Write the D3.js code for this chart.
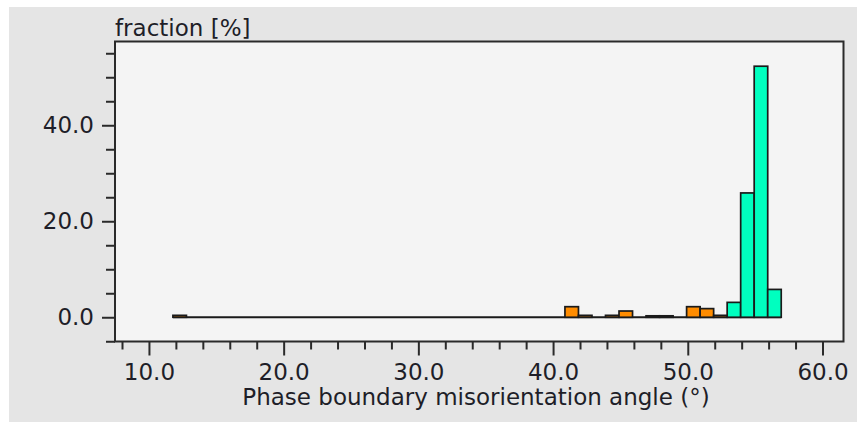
<!DOCTYPE html>
<head>
  <meta charset="utf-8">
  <script src="https://d3js.org/d3.v7.min.js"></script>
  <style>
    body { margin: 0; background: #fff; }
    svg { display: block; }
    text { font-family: "DejaVu Sans", Verdana, sans-serif; fill: #1e1e28; }
  </style>
</head>

<body>
  <svg width="857" height="422"></svg>
  <script>
    // data: histogram bins (degrees) and fraction in %
    var angles = [12, 13, 14, 15, 16, 17, 18, 19, 20, 21, 22, 23, 24, 25, 26, 27, 28, 29, 30,
                  31, 32, 33, 34, 35, 36, 37, 38, 39, 40, 41, 42, 43, 44, 45, 46, 47, 48, 49,
                  50, 51, 52, 53, 54, 55, 56];
    var fractions = [0.4, 0, 0, 0, 0, 0, 0, 0, 0, 0, 0, 0, 0, 0, 0, 0, 0, 0, 0,
                     0, 0, 0, 0, 0, 0, 0, 0, 0, 0, 2.2, 0.4, 0, 0.4, 1.3, 0, 0.3, 0.3, 0,
                     2.2, 1.8, 0.4, 3.1, 25.9, 52.3, 5.8];
    var xTicks = [10, 20, 30, 40, 50, 60];
    var yTicks = [0, 20, 40];

    var binStart = 11.78, binWidth = 1.0035;
    var fontSize = 23;

    var plot = {left: 115, right: 843.5, top: 41.5, bottom: 341.5};

    var x = d3.scaleLinear().domain([7.48, 61.56]).range([plot.left, plot.right]);
    var y = d3.scaleLinear().domain([-5.05, 57.45]).range([plot.bottom, plot.top]);
    var color = d3.scaleThreshold().domain([52.5]).range(['#ff8c00', '#00ffbf']);

    function lo(a) { return binStart + (a - 12) * binWidth; }

    var svg = d3.select('svg');

    // outer panel
    svg.append('rect')
      .attr('x', 9).attr('y', 7)
      .attr('width', 848).attr('height', 415)
      .attr('fill', '#e5e5e5');

    // plot area
    svg.append('rect')
      .attr('x', plot.left).attr('y', plot.top)
      .attr('width', plot.right - plot.left).attr('height', plot.bottom - plot.top)
      .attr('fill', '#f4f4f4')
      .attr('stroke', '#2a2a2a')
      .attr('stroke-width', 2);

    // baseline under the empty bins
    svg.append('line')
      .attr('x1', x(lo(angles[0])))
      .attr('x2', x(lo(angles[angles.length - 1]) + binWidth))
      .attr('y1', y(0)).attr('y2', y(0))
      .attr('stroke', '#1a1a1a')
      .attr('stroke-width', 1.8);

    // bars
    var data = angles.map(function(a, i) { return {a: a, v: fractions[i]}; })
      .filter(function(d) { return d.v > 0; });
    svg.append('g').selectAll('rect')
      .data(data)
      .enter().append('rect')
      .attr('x', function(d) { return x(lo(d.a)); })
      .attr('width', function(d) { return x(lo(d.a) + binWidth) - x(lo(d.a)); })
      .attr('y', function(d) { return y(d.v); })
      .attr('height', function(d) { return y(0) - y(d.v); })
      .attr('fill', function(d) { return color(d.a); })
      .attr('stroke', '#1a1a1a')
      .attr('stroke-width', 1.7);

    // axes
    var xAxisMinor = d3.axisBottom(x)
      .tickValues(d3.range(8, 61, 2).filter(function(v) { return v % 10 !== 0; }))
      .tickSize(8).tickFormat('');
    var xAxisMajor = d3.axisBottom(x)
      .tickValues(xTicks).tickSize(14).tickPadding(8)
      .tickFormat(d3.format('.1f'));
    var yAxisMinor = d3.axisLeft(y)
      .tickValues(d3.range(-5, 56, 5).filter(function(v) { return v % 20 !== 0; }))
      .tickSize(9).tickFormat('');
    var yAxisMajor = d3.axisLeft(y)
      .tickValues(yTicks).tickSize(13).tickPadding(8)
      .tickFormat(d3.format('.1f'));

    [xAxisMinor, xAxisMajor].forEach(function(ax) {
      svg.append('g')
        .attr('transform', 'translate(0,' + plot.bottom + ')')
        .call(ax);
    });
    [yAxisMinor, yAxisMajor].forEach(function(ax) {
      svg.append('g')
        .attr('transform', 'translate(' + plot.left + ',0)')
        .call(ax);
    });

    svg.selectAll('.domain').remove();
    svg.selectAll('.tick line').attr('stroke', '#2a2a2a').attr('stroke-width', 2);
    svg.selectAll('.tick text')
      .attr('font-size', fontSize)
      .attr('font-family', '"DejaVu Sans", Verdana, sans-serif')
      .attr('fill', '#1e1e28');

    // labels
    svg.append('text')
      .attr('x', 115).attr('y', 36)
      .attr('font-size', fontSize)
      .text('fraction [%]');

    svg.append('text')
      .attr('x', 476).attr('y', 405)
      .attr('text-anchor', 'middle')
      .attr('font-size', fontSize)
      .text('Phase boundary misorientation angle (°)');
  </script>
</body>
